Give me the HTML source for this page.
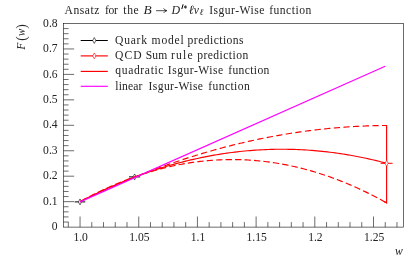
<!DOCTYPE html>
<html><head><meta charset="utf-8"><title>Isgur-Wise</title>
<style>html,body{margin:0;padding:0;background:#fff;overflow:hidden}svg{display:block}text{font-family:"Liberation Serif",serif;fill:#242424}</style></head><body>
<svg width="416" height="261" viewBox="0 0 416 261">
<rect x="0" y="0" width="416" height="261" fill="#fff"/>
<g stroke="#000" stroke-width="0.58" fill="none" stroke-linecap="butt">
<rect x="63.55" y="23.5" width="339.85" height="203.60"/>
<path d="M63.55 222.01h5.0M63.55 216.92h5.0M63.55 211.83h5.0M63.55 206.74h5.0M63.55 201.65h10.6M63.55 196.56h5.0M63.55 191.47h5.0M63.55 186.38h5.0M63.55 181.29h5.0M63.55 176.20h10.6M63.55 171.11h5.0M63.55 166.02h5.0M63.55 160.93h5.0M63.55 155.84h5.0M63.55 150.75h10.6M63.55 145.66h5.0M63.55 140.57h5.0M63.55 135.48h5.0M63.55 130.39h5.0M63.55 125.30h10.6M63.55 120.21h5.0M63.55 115.12h5.0M63.55 110.03h5.0M63.55 104.94h5.0M63.55 99.85h10.6M63.55 94.76h5.0M63.55 89.67h5.0M63.55 84.58h5.0M63.55 79.49h5.0M63.55 74.40h10.6M63.55 69.31h5.0M63.55 64.22h5.0M63.55 59.13h5.0M63.55 54.04h5.0M63.55 48.95h10.6M63.55 43.86h5.0M63.55 38.77h5.0M63.55 33.68h5.0M63.55 28.59h5.0M68.31 227.1v-5.0M80.05 227.1v-10.6M91.79 227.1v-5.0M103.53 227.1v-5.0M115.26 227.1v-5.0M127.00 227.1v-5.0M138.74 227.1v-10.6M150.48 227.1v-5.0M162.22 227.1v-5.0M173.95 227.1v-5.0M185.69 227.1v-5.0M197.43 227.1v-10.6M209.17 227.1v-5.0M220.91 227.1v-5.0M232.64 227.1v-5.0M244.38 227.1v-5.0M256.12 227.1v-10.6M267.86 227.1v-5.0M279.60 227.1v-5.0M291.33 227.1v-5.0M303.07 227.1v-5.0M314.81 227.1v-10.6M326.55 227.1v-5.0M338.29 227.1v-5.0M350.02 227.1v-5.0M361.76 227.1v-5.0M373.50 227.1v-10.6M385.24 227.1v-5.0M396.98 227.1v-5.0"/>
</g>
<g id="mk1">
<path d="M74.70 201.90H85.30" stroke="#000" stroke-width="1.0" fill="none"/>
<path d="M80.00 198.95l1.6 2.95l-1.6 2.95l-1.6-2.95z" fill="#fff" stroke="#000" stroke-width="0.6"/>
<path d="M129.00 176.90H140.20" stroke="#000" stroke-width="1.0" fill="none"/>
<path d="M134.60 173.95l1.6 2.95l-1.6 2.95l-1.6-2.95z" fill="#fff" stroke="#000" stroke-width="0.6"/>
</g>
<g fill="none" stroke="#ff0000" stroke-width="1.15" stroke-linejoin="miter">
<path d="M80.05 201.65 L81.59 200.90 L83.13 200.14 L84.67 199.40 L86.21 198.65 L87.75 197.92 L89.29 197.18 L90.83 196.45 L92.37 195.72 L93.91 195.00 L95.45 194.27 L96.99 193.56 L98.54 192.84 L100.08 192.14 L101.62 191.43 L103.16 190.73 L104.70 190.03 L106.24 189.34 L107.78 188.65 L109.32 187.96 L110.86 187.28 L112.40 186.60 L113.94 185.92 L115.48 185.25 L117.02 184.58 L118.56 183.92 L120.10 183.26 L121.64 182.60 L123.18 181.95 L124.72 181.30 L126.26 180.65 L127.80 180.01 L129.34 179.37 L130.88 178.74 L132.43 178.11 L133.97 177.48 L135.51 176.86 L137.05 176.24 L138.59 175.62 L140.13 175.01 L141.67 174.40 L143.21 173.80 L144.75 173.20 L146.29 172.60 L147.83 172.01 L149.37 171.42 L150.91 170.83 L152.45 170.25 L153.99 169.67 L155.53 169.10 L157.07 168.53 L158.61 167.96 L160.15 167.40 L161.69 166.84 L163.23 166.29 L164.77 165.73 L166.32 165.19 L167.86 164.64 L169.40 164.10 L170.94 163.56 L172.48 163.03 L174.02 162.50 L175.56 161.98 L177.10 161.46 L178.64 160.94 L180.18 160.42 L181.72 159.91 L183.26 159.41 L184.80 158.90 L186.34 158.40 L187.88 157.91 L189.42 157.42 L190.96 156.93 L192.50 156.45 L194.04 155.97 L195.58 155.49 L197.12 155.02 L198.66 154.55 L200.21 154.08 L201.75 153.62 L203.29 153.16 L204.83 152.71 L206.37 152.26 L207.91 151.81 L209.45 151.37 L210.99 150.93 L212.53 150.50 L214.07 150.06 L215.61 149.64 L217.15 149.21 L218.69 148.79 L220.23 148.38 L221.77 147.96 L223.31 147.55 L224.85 147.15 L226.39 146.75 L227.93 146.35 L229.47 145.96 L231.01 145.57 L232.55 145.18 L234.10 144.80 L235.64 144.42 L237.18 144.04 L238.72 143.67 L240.26 143.30 L241.80 142.94 L243.34 142.58 L244.88 142.22 L246.42 141.87 L247.96 141.52 L249.50 141.18 L251.04 140.83 L252.58 140.50 L254.12 140.16 L255.66 139.83 L257.20 139.51 L258.74 139.18 L260.28 138.87 L261.82 138.55 L263.36 138.24 L264.90 137.93 L266.44 137.63 L267.99 137.33 L269.53 137.03 L271.07 136.74 L272.61 136.45 L274.15 136.16 L275.69 135.88 L277.23 135.61 L278.77 135.33 L280.31 135.06 L281.85 134.80 L283.39 134.53 L284.93 134.27 L286.47 134.02 L288.01 133.77 L289.55 133.52 L291.09 133.28 L292.63 133.04 L294.17 132.80 L295.71 132.57 L297.25 132.34 L298.79 132.12 L300.33 131.89 L301.88 131.68 L303.42 131.46 L304.96 131.25 L306.50 131.05 L308.04 130.84 L309.58 130.65 L311.12 130.45 L312.66 130.26 L314.20 130.07 L315.74 129.89 L317.28 129.71 L318.82 129.53 L320.36 129.36 L321.90 129.19 L323.44 129.03 L324.98 128.87 L326.52 128.71 L328.06 128.55 L329.60 128.40 L331.14 128.26 L332.68 128.12 L334.22 127.98 L335.77 127.84 L337.31 127.71 L338.85 127.58 L340.39 127.46 L341.93 127.34 L343.47 127.22 L345.01 127.11 L346.55 127.00 L348.09 126.90 L349.63 126.80 L351.17 126.70 L352.71 126.61 L354.25 126.52 L355.79 126.43 L357.33 126.35 L358.87 126.27 L360.41 126.20 L361.95 126.13 L363.49 126.06 L365.03 125.99 L366.57 125.93 L368.11 125.88 L369.66 125.83 L371.20 125.78 L372.74 125.73 L374.28 125.69 L375.82 125.66 L377.36 125.62 L378.90 125.59 L380.44 125.57 L381.98 125.54 L383.52 125.53 L385.06 125.51 L386.60 125.50" stroke-dasharray="6.3 3.37" stroke-dashoffset="5.11"/>
<path d="M80.05 201.65 L81.59 200.80 L83.13 199.96 L84.67 199.13 L86.21 198.31 L87.75 197.50 L89.29 196.69 L90.83 195.90 L92.37 195.11 L93.91 194.33 L95.45 193.56 L96.99 192.80 L98.54 192.04 L100.08 191.30 L101.62 190.56 L103.16 189.84 L104.70 189.12 L106.24 188.41 L107.78 187.71 L109.32 187.02 L110.86 186.33 L112.40 185.66 L113.94 184.99 L115.48 184.33 L117.02 183.68 L118.56 183.04 L120.10 182.41 L121.64 181.79 L123.18 181.17 L124.72 180.56 L126.26 179.97 L127.80 179.38 L129.34 178.80 L130.88 178.23 L132.43 177.66 L133.97 177.11 L135.51 176.56 L137.05 176.02 L138.59 175.50 L140.13 174.98 L141.67 174.46 L143.21 173.96 L144.75 173.47 L146.29 172.98 L147.83 172.51 L149.37 172.04 L150.91 171.58 L152.45 171.13 L153.99 170.68 L155.53 170.25 L157.07 169.83 L158.61 169.41 L160.15 169.00 L161.69 168.60 L163.23 168.21 L164.77 167.83 L166.32 167.46 L167.86 167.09 L169.40 166.74 L170.94 166.39 L172.48 166.05 L174.02 165.72 L175.56 165.40 L177.10 165.08 L178.64 164.78 L180.18 164.48 L181.72 164.20 L183.26 163.92 L184.80 163.65 L186.34 163.39 L187.88 163.14 L189.42 162.89 L190.96 162.66 L192.50 162.43 L194.04 162.21 L195.58 162.00 L197.12 161.80 L198.66 161.61 L200.21 161.43 L201.75 161.25 L203.29 161.08 L204.83 160.93 L206.37 160.78 L207.91 160.64 L209.45 160.51 L210.99 160.38 L212.53 160.27 L214.07 160.16 L215.61 160.06 L217.15 159.98 L218.69 159.90 L220.23 159.82 L221.77 159.76 L223.31 159.71 L224.85 159.66 L226.39 159.63 L227.93 159.60 L229.47 159.58 L231.01 159.57 L232.55 159.56 L234.10 159.57 L235.64 159.59 L237.18 159.61 L238.72 159.64 L240.26 159.68 L241.80 159.73 L243.34 159.79 L244.88 159.86 L246.42 159.93 L247.96 160.02 L249.50 160.11 L251.04 160.21 L252.58 160.32 L254.12 160.44 L255.66 160.56 L257.20 160.70 L258.74 160.84 L260.28 161.00 L261.82 161.16 L263.36 161.33 L264.90 161.51 L266.44 161.70 L267.99 161.89 L269.53 162.10 L271.07 162.31 L272.61 162.53 L274.15 162.76 L275.69 163.00 L277.23 163.25 L278.77 163.51 L280.31 163.77 L281.85 164.04 L283.39 164.33 L284.93 164.62 L286.47 164.92 L288.01 165.23 L289.55 165.54 L291.09 165.87 L292.63 166.20 L294.17 166.55 L295.71 166.90 L297.25 167.26 L298.79 167.63 L300.33 168.00 L301.88 168.39 L303.42 168.78 L304.96 169.19 L306.50 169.60 L308.04 170.02 L309.58 170.45 L311.12 170.88 L312.66 171.33 L314.20 171.79 L315.74 172.25 L317.28 172.72 L318.82 173.20 L320.36 173.69 L321.90 174.19 L323.44 174.70 L324.98 175.21 L326.52 175.74 L328.06 176.27 L329.60 176.81 L331.14 177.36 L332.68 177.92 L334.22 178.49 L335.77 179.06 L337.31 179.65 L338.85 180.24 L340.39 180.84 L341.93 181.45 L343.47 182.07 L345.01 182.70 L346.55 183.33 L348.09 183.98 L349.63 184.63 L351.17 185.29 L352.71 185.96 L354.25 186.64 L355.79 187.33 L357.33 188.03 L358.87 188.73 L360.41 189.45 L361.95 190.17 L363.49 190.90 L365.03 191.64 L366.57 192.39 L368.11 193.14 L369.66 193.91 L371.20 194.68 L372.74 195.47 L374.28 196.26 L375.82 197.06 L377.36 197.87 L378.90 198.68 L380.44 199.51 L381.98 200.34 L383.52 201.19 L385.06 202.04 L386.60 202.90" stroke-dasharray="6.4 3.08" stroke-dashoffset="8.2"/>
<path d="M384.1 125.5H386.6V202.9L384.1 201.5" stroke-miterlimit="10"/>
<path d="M80.05 201.65 L82.63 200.32 L85.20 199.01 L87.78 197.72 L90.35 196.44 L92.93 195.18 L95.51 193.94 L98.08 192.71 L100.66 191.50 L103.23 190.31 L105.81 189.14 L108.39 187.98 L110.96 186.84 L113.54 185.71 L116.11 184.61 L118.69 183.52 L121.27 182.45 L123.84 181.39 L126.42 180.35 L128.99 179.33 L131.57 178.33 L134.15 177.34 L136.72 176.37 L139.30 175.42 L141.88 174.48 L144.45 173.56 L147.03 172.66 L149.60 171.77 L152.18 170.91 L154.76 170.06 L157.33 169.22 L159.91 168.40 L162.48 167.61 L165.06 166.82 L167.64 166.06 L170.21 165.31 L172.79 164.58 L175.36 163.86 L177.94 163.17 L180.52 162.48 L183.09 161.82 L185.67 161.18 L188.24 160.55 L190.82 159.93 L193.40 159.34 L195.97 158.76 L198.55 158.20 L201.12 157.66 L203.70 157.13 L206.28 156.62 L208.85 156.13 L211.43 155.65 L214.00 155.19 L216.58 154.75 L219.16 154.33 L221.73 153.92 L224.31 153.53 L226.88 153.15 L229.46 152.80 L232.04 152.46 L234.61 152.14 L237.19 151.83 L239.77 151.54 L242.34 151.27 L244.92 151.02 L247.49 150.78 L250.07 150.56 L252.65 150.36 L255.22 150.17 L257.80 150.00 L260.37 149.85 L262.95 149.72 L265.53 149.60 L268.10 149.50 L270.68 149.41 L273.25 149.35 L275.83 149.30 L278.41 149.27 L280.98 149.25 L283.56 149.25 L286.13 149.27 L288.71 149.31 L291.29 149.36 L293.86 149.43 L296.44 149.52 L299.01 149.62 L301.59 149.74 L304.17 149.88 L306.74 150.03 L309.32 150.21 L311.89 150.40 L314.47 150.60 L317.05 150.82 L319.62 151.06 L322.20 151.32 L324.77 151.60 L327.35 151.89 L329.93 152.20 L332.50 152.52 L335.08 152.86 L337.66 153.22 L340.23 153.60 L342.81 153.99 L345.38 154.41 L347.96 154.83 L350.54 155.28 L353.11 155.74 L355.69 156.22 L358.26 156.72 L360.84 157.23 L363.42 157.76 L365.99 158.31 L368.57 158.87 L371.14 159.45 L373.72 160.05 L376.30 160.66 L378.87 161.30 L381.45 161.95 L384.02 162.61 L386.60 163.30"/>
</g>
<path d="M80.05 201.90L385.2 66.3" stroke="#ff00ff" stroke-width="1.15" fill="none"/>
<g id="mk2">
<path d="M380.60 163.30H392.60" stroke="#ff0000" stroke-width="1.0" fill="none"/>
<path d="M386.60 160.35l1.6 2.95l-1.6 2.95l-1.6-2.95z" fill="#fff" stroke="#ff0000" stroke-width="0.6"/>
</g>
<path d="M80.7 40.5H107.8" stroke="#000" stroke-width="1.0" fill="none"/>
<path d="M94.30 37.55l1.6 2.95l-1.6 2.95l-1.6-2.95z" fill="#fff" stroke="#000" stroke-width="0.6"/>
<path d="M80.7 55.9H107.8" stroke="#ff0000" stroke-width="1.15" fill="none"/>
<path d="M94.30 52.95l1.6 2.95l-1.6 2.95l-1.6-2.95z" fill="#fff" stroke="#ff0000" stroke-width="0.6"/>
<path d="M80.7 71.4H107.8" stroke="#ff0000" stroke-width="1.15" fill="none"/>
<path d="M80.7 86.3H107.8" stroke="#ff00ff" stroke-width="1.15" fill="none"/>
<path d="M156.1 10.7H166.6M163.6 8.4Q164.6 10.2 166.8 10.7Q164.6 11.2 163.6 13" stroke="#000" stroke-width="0.7" fill="none"/>
<path d="M183.0 4.7L181.9 8.7" stroke="#000" stroke-width="1.0" fill="none" stroke-linecap="round"/>
<path d="M185.4 5.2V8.8M183.85 6.1L186.95 7.9M183.85 7.9L186.95 6.1" stroke="#000" stroke-width="0.6" fill="none"/>
<defs><mask id="m" maskUnits="userSpaceOnUse" x="0" y="0" width="416" height="261"><rect width="416" height="261" fill="#fff"/></mask></defs>
<g mask="url(#m)">
<text x="115.0" y="43.8" font-size="11.6" textLength="32.00" lengthAdjust="spacing">Quark</text>
<text x="151.6" y="43.8" font-size="11.6" textLength="32.10" lengthAdjust="spacing">model</text>
<text x="187.6" y="43.8" font-size="11.6" textLength="56.00" lengthAdjust="spacing">predictions</text>
<text x="115.0" y="59.25" font-size="11.6" textLength="26.50" lengthAdjust="spacing">QCD</text>
<text x="145.7" y="59.25" font-size="11.6" textLength="21.50" lengthAdjust="spacing">Sum</text>
<text x="170.9" y="59.25" font-size="11.6" textLength="21.70" lengthAdjust="spacing">rule</text>
<text x="197.2" y="59.25" font-size="11.6" textLength="51.00" lengthAdjust="spacing">prediction</text>
<text x="115.3" y="74.3" font-size="11.6" textLength="48.20" lengthAdjust="spacing">quadratic</text>
<text x="167.8" y="74.3" font-size="11.6" textLength="55.40" lengthAdjust="spacing">Isgur-Wise</text>
<text x="228.2" y="74.3" font-size="11.6" textLength="41.20" lengthAdjust="spacing">function</text>
<text x="115.3" y="89.7" font-size="11.6" textLength="27.10" lengthAdjust="spacing">linear</text>
<text x="148.5" y="89.7" font-size="11.6" textLength="54.50" lengthAdjust="spacing">Isgur-Wise</text>
<text x="208.3" y="89.7" font-size="11.6" textLength="41.40" lengthAdjust="spacing">function</text>
<text x="57.6" y="230.20" font-size="11.6" text-anchor="end">0</text>
<text x="57.6" y="204.75" font-size="11.6" text-anchor="end">0.1</text>
<text x="57.6" y="179.30" font-size="11.6" text-anchor="end">0.2</text>
<text x="57.6" y="153.85" font-size="11.6" text-anchor="end">0.3</text>
<text x="57.6" y="128.40" font-size="11.6" text-anchor="end">0.4</text>
<text x="57.6" y="102.95" font-size="11.6" text-anchor="end">0.5</text>
<text x="57.6" y="77.50" font-size="11.6" text-anchor="end">0.6</text>
<text x="57.6" y="52.05" font-size="11.6" text-anchor="end">0.7</text>
<text x="57.6" y="26.60" font-size="11.6" text-anchor="end">0.8</text>
<text x="80.65" y="241.4" font-size="11.6" text-anchor="middle">1.0</text>
<text x="139.34" y="241.4" font-size="11.6" text-anchor="middle">1.05</text>
<text x="198.03" y="241.4" font-size="11.6" text-anchor="middle">1.1</text>
<text x="256.72" y="241.4" font-size="11.6" text-anchor="middle">1.15</text>
<text x="315.41" y="241.4" font-size="11.6" text-anchor="middle">1.2</text>
<text x="374.10" y="241.4" font-size="11.6" text-anchor="middle">1.25</text>
<text x="395" y="254.9" font-size="12.6" font-style="italic" textLength="7.8" lengthAdjust="spacingAndGlyphs">w</text>
<text transform="translate(24.6 49.7) rotate(-90)" font-size="11.6" font-style="italic">F</text>
<text transform="translate(25.7 49.7) rotate(-90)" x="9.0" font-size="13.6">(</text>
<text transform="translate(24.6 49.7) rotate(-90)" x="13.6" font-size="11.6" font-style="italic" textLength="7.3" lengthAdjust="spacingAndGlyphs">w</text>
<text transform="translate(25.7 49.7) rotate(-90)" x="21.0" font-size="13.6">)</text>
<text x="64.6" y="13.5" font-size="11.6" textLength="34.70" lengthAdjust="spacing">Ansatz</text>
<text x="105.0" y="13.5" font-size="11.6" textLength="12.90" lengthAdjust="spacing">for</text>
<text x="123.3" y="13.5" font-size="11.6" textLength="15.40" lengthAdjust="spacing">the</text>
<text x="209.2" y="13.5" font-size="11.6" textLength="55.20" lengthAdjust="spacing">Isgur-Wise</text>
<text x="269.2" y="13.5" font-size="11.6" textLength="42.00" lengthAdjust="spacing">function</text>
<text x="143.4" y="13.5" font-size="11.6" font-style="italic" textLength="8.2" lengthAdjust="spacingAndGlyphs">B</text>
<text x="171.6" y="13.5" font-size="11.6" font-style="italic" textLength="8.6" lengthAdjust="spacingAndGlyphs">D</text>
<text x="188.7" y="13.5" font-size="12.6" font-style="italic">ℓ</text>
<text x="193.7" y="13.5" font-size="11.6" font-style="italic">ν</text>
<text x="199.6" y="15.4" font-size="9" font-style="italic">ℓ</text>
</g>
</svg></body></html>
